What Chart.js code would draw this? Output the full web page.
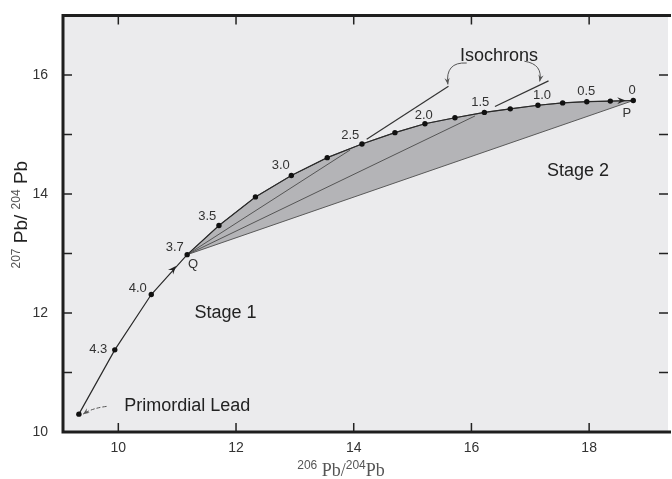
<!DOCTYPE html>
<html>
<head>
<meta charset="utf-8">
<script src="https://cdn.jsdelivr.net/npm/chart.js@4.4.0/dist/chart.umd.min.js"></script>
<style>
  html, body { margin: 0; padding: 0; background: #fff; overflow: hidden; }
  #wrap { width: 672px; height: 479px; }
</style>
</head>
<body>
<div id="wrap"><canvas id="lead"></canvas></div>
<script>
// lead growth curve, 206Pb/204Pb (x) against 207Pb/204Pb (y)
const curveX = [9.33, 9.94, 10.56, 11.17, 11.71, 12.33, 12.94, 13.55, 14.14, 14.70, 15.21, 15.72, 16.22, 16.66, 17.13, 17.55, 17.96, 18.36, 18.75];
const curveY = [10.30, 11.38, 12.31, 12.98, 13.47, 13.95, 14.31, 14.61, 14.84, 15.03, 15.18, 15.28, 15.37, 15.43, 15.49, 15.53, 15.55, 15.56, 15.57];
const qIndex = 3; // Q, 3.7 Ga

// ages (Ga) written beside the curve
const ageText = ['4.3', '4.0', '3.7', '3.5', '3.0', '2.5', '2.0', '1.5', '1.0', '0.5', '0'];
const ageX = [9.66, 10.33, 10.96, 11.51, 12.76, 13.94, 15.19, 16.15, 17.20, 17.95, 18.73];
const ageY = [11.38, 12.41, 13.10, 13.62, 14.48, 14.98, 15.32, 15.54, 15.65, 15.73, 15.74];

// isochrons from Q: inner part ends, outer part start / end
const isoInnerX = [13.94, 16.06];
const isoInnerY = [14.74, 15.31];
const isoOuterX = [[14.22, 15.61], [16.40, 17.31]];
const isoOuterY = [[14.92, 15.81], [15.47, 15.90]];

// text notes
const noteText = ['Stage 1', 'Stage 2', 'Isochrons', 'Primordial Lead', 'Q', 'P'];
const noteX = [11.82, 17.81, 16.47, 11.17, 11.27, 18.64];
const noteY = [12.00, 14.39, 16.31, 10.43, 12.81, 15.35];

// pointer arrows: start, bend, tip
const pointerFrom = [[9.80, 10.43], [15.92, 16.20], [16.90, 16.23]];
const pointerVia = [[9.55, 10.40], [15.55, 16.22], [17.22, 16.18]];
const pointerTo = [[9.40, 10.30], [15.60, 15.84], [17.16, 15.89]];

// arrow heads on the curve: tail, tip
const curveArrowFrom = [[10.78, 12.56], [18.38, 15.565]];
const curveArrowTo = [[10.98, 12.79], [18.62, 15.57]];

// axes
const xTicks = [10, 12, 14, 16, 18];
const yTickMarks = [10, 11, 12, 13, 14, 15, 16];
const yTickLabels = [10, 12, 14, 16];
// axis titles as (text, superscript?) pieces
const xTitle = [['206', true], [' Pb/', false], ['204', true], ['Pb', false]];
const yTitle = [['207', true], [' Pb/ ', false], ['204', true], [' Pb', false]];

const pts = (xs, ys) => xs.map((x, i) => ({ x: x, y: ys[i] }));

const shape = pts(curveX.slice(qIndex), curveY.slice(qIndex));
shape.push({ x: curveX[qIndex], y: curveY[qIndex] });

const q = { x: curveX[qIndex], y: curveY[qIndex] };

function arrowHead(ctx, x0, y0, x1, y1, size) {
    const a = Math.atan2(y1 - y0, x1 - x0);
    ctx.beginPath();
    ctx.moveTo(x1, y1);
    ctx.lineTo(x1 - size * Math.cos(a - 0.38), y1 - size * Math.sin(a - 0.38));
    ctx.lineTo(x1 - size * 0.6 * Math.cos(a), y1 - size * 0.6 * Math.sin(a));
    ctx.lineTo(x1 - size * Math.cos(a + 0.38), y1 - size * Math.sin(a + 0.38));
    ctx.closePath();
    ctx.fill();
}

// draws a title made of normal and superscript pieces, centred at (0,0)
function drawPieces(ctx, pieces, bigFont, supFont, bigColor, supColor) {
    const fontOf = sup => sup ? supFont : bigFont;
    let total = 0;
    pieces.forEach(p => { ctx.font = fontOf(p[1]); total += ctx.measureText(p[0]).width; });
    let x = -total / 2;
    ctx.textAlign = 'left';
    ctx.textBaseline = 'alphabetic';
    pieces.forEach(p => {
        ctx.font = fontOf(p[1]);
        ctx.fillStyle = p[1] ? supColor : bigColor;
        ctx.fillText(p[0], x, p[1] ? -1 : 6);
        x += ctx.measureText(p[0]).width;
    });
}

const decor = {
    id: 'decor',
    beforeDraw(chart) {
        const { ctx, chartArea: a } = chart;
        ctx.save();
        ctx.fillStyle = '#ebebed';
        ctx.fillRect(a.left, a.top, a.right - a.left, a.bottom - a.top);
        ctx.restore();
    },
    afterDatasetsDraw(chart) {
        const { ctx, chartArea: a } = chart;
        const sx = chart.scales.x, sy = chart.scales.y;
        const X = v => sx.getPixelForValue(v), Y = v => sy.getPixelForValue(v);
        ctx.save();

        // tick marks, pointing inward
        ctx.strokeStyle = '#222';
        ctx.lineWidth = 1.5;
        ctx.beginPath();
        xTicks.forEach(v => {
            ctx.moveTo(X(v), a.bottom); ctx.lineTo(X(v), a.bottom - 9);
            ctx.moveTo(X(v), a.top); ctx.lineTo(X(v), a.top + 9);
        });
        yTickMarks.forEach(v => {
            ctx.moveTo(a.left, Y(v)); ctx.lineTo(a.left + 9, Y(v));
            ctx.moveTo(a.right, Y(v)); ctx.lineTo(a.right - 9, Y(v));
        });
        ctx.stroke();

        // frame
        ctx.lineWidth = 3;
        ctx.strokeStyle = '#1e1e1e';
        ctx.beginPath();
        ctx.moveTo(a.right + 3, a.top);
        ctx.lineTo(a.left, a.top);
        ctx.lineTo(a.left, a.bottom);
        ctx.lineTo(a.right + 3, a.bottom);
        ctx.stroke();

        // arrows on the curve
        ctx.fillStyle = '#222';
        curveArrowFrom.forEach((f, i) => {
            const t = curveArrowTo[i];
            arrowHead(ctx, X(f[0]), Y(f[1]), X(t[0]), Y(t[1]), 9);
        });

        // pointer arrows
        ctx.strokeStyle = '#555';
        ctx.fillStyle = '#555';
        ctx.lineWidth = 1;
        pointerFrom.forEach((f, i) => {
            const v = pointerVia[i], t = pointerTo[i];
            ctx.setLineDash(i === 0 ? [4, 2] : []);
            ctx.beginPath();
            ctx.moveTo(X(f[0]), Y(f[1]));
            ctx.quadraticCurveTo(X(v[0]), Y(v[1]), X(t[0]), Y(t[1]));
            ctx.stroke();
            ctx.setLineDash([]);
            arrowHead(ctx, X(v[0]), Y(v[1]), X(t[0]), Y(t[1]), 7);
        });

        // ages
        ctx.fillStyle = '#333';
        ctx.textAlign = 'center';
        ctx.textBaseline = 'middle';
        ctx.font = '13px "Liberation Sans", Arial, sans-serif';
        ageText.forEach((s, i) => ctx.fillText(s, X(ageX[i]), Y(ageY[i])));

        // notes
        noteText.forEach((s, i) => {
            const small = s.length === 1;
            ctx.font = (small ? '13px' : '18px') + ' "Liberation Sans", Arial, sans-serif';
            ctx.fillStyle = small ? '#333' : '#222';
            ctx.fillText(s, X(noteX[i]), Y(noteY[i]));
        });
        ctx.restore();

        // axis titles
        ctx.save();
        ctx.translate(341, 470);
        drawPieces(ctx, xTitle, '18px "Liberation Serif", serif', '12px "Liberation Sans", sans-serif', '#555', '#555');
        ctx.restore();
        ctx.save();
        ctx.translate(21, (a.top + a.bottom) / 2 - 9);
        ctx.rotate(-Math.PI / 2);
        drawPieces(ctx, yTitle, '19px "Liberation Sans", sans-serif', '12px "Liberation Sans", sans-serif', '#222', '#555');
        ctx.restore();
    }
};

const ctx = document.getElementById('lead');
const leadChart = new Chart(ctx, {
    type: 'line',
    data: {
        datasets: [{
            data: shape,
            fill: 'shape',
            backgroundColor: '#b4b4b7',
            borderColor: '#5a5a5a',
            borderWidth: 1,
            pointRadius: 0,
            order: 6
        }, {
            data: [q, { x: isoInnerX[0], y: isoInnerY[0] }],
            borderColor: '#555',
            borderWidth: 1,
            pointRadius: 0,
            order: 5
        }, {
            data: [q, { x: isoInnerX[1], y: isoInnerY[1] }],
            borderColor: '#555',
            borderWidth: 1,
            pointRadius: 0,
            order: 5
        }, {
            data: pts(isoOuterX[0], isoOuterY[0]),
            borderColor: '#333',
            borderWidth: 1.2,
            pointRadius: 0,
            order: 4
        }, {
            data: pts(isoOuterX[1], isoOuterY[1]),
            borderColor: '#333',
            borderWidth: 1.2,
            pointRadius: 0,
            order: 4
        }, {
            data: pts(curveX, curveY),
            borderColor: '#2a2a2a',
            borderWidth: 1.2,
            pointRadius: 2.7,
            pointBackgroundColor: '#111',
            pointBorderWidth: 0,
            order: 1
        }]
    },
    options: {
        responsive: true,
        maintainAspectRatio: false,
        animation: false,
        layout: { padding: { top: 13, right: 1, left: 0, bottom: 0 } },
        plugins: {
            legend: { display: false },
            tooltip: { enabled: false }
        },
        scales: {
            x: {
                type: 'linear',
                min: 9.06,
                max: 19.34,
                afterBuildTicks: s => { s.ticks = xTicks.map(v => ({ value: v })); },
                afterFit: s => { s.height = 47; },
                grid: { display: false },
                border: { display: false },
                ticks: {
                    color: '#333',
                    padding: 0,
                    font: { family: 'Liberation Sans', size: 14 }
                }
            },
            y: {
                type: 'linear',
                min: 10,
                max: 17,
                afterBuildTicks: s => { s.ticks = yTickMarks.map(v => ({ value: v })); },
                afterFit: s => { s.width = 63; },
                grid: { display: false },
                border: { display: false },
                ticks: {
                    color: '#333',
                    padding: 7,
                    font: { family: 'Liberation Sans', size: 14 },
                    callback: v => yTickLabels.includes(v) ? String(v) : ''
                }
            }
        }
    },
    plugins: [decor]
});
</script>
</body>
</html>
